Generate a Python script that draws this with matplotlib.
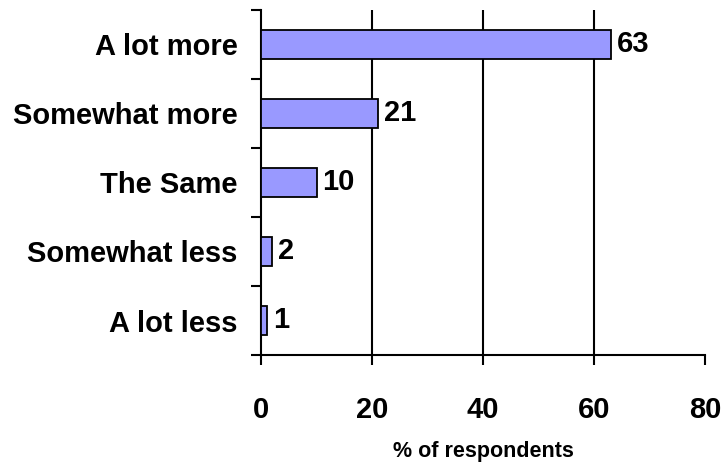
import matplotlib
matplotlib.use('Agg')
import matplotlib.pyplot as plt

categories = ['A lot less', 'Somewhat less', 'The Same', 'Somewhat more', 'A lot more']
values = [1, 2, 10, 21, 63]
xticks = [0, 20, 40, 60, 80]
xlabel = '% of respondents'

plt.rcParams['font.family'] = ['Liberation Sans', 'DejaVu Sans']
plt.rcParams['font.weight'] = 'bold'

fig = plt.figure(figsize=(7.28, 4.63), dpi=100)
ax = fig.add_axes([261 / 728, 1 - 355 / 463, (705 - 261) / 728, (355 - 10) / 463])

pos = list(range(len(categories)))
ax.barh(pos, values, height=0.43, color='#9999FF', edgecolor='black', linewidth=1.3, zorder=3)
for p, v in zip(pos, values):
    ax.text(v + 1.1, p, str(v), va='center', ha='left', fontsize=21, fontweight='bold')

for g in xticks[1:-1]:
    ax.axvline(g, color='black', lw=1.5, zorder=1)

ax.set_xlim(xticks[0], xticks[-1])
ax.set_ylim(-0.5, len(categories) - 0.5)
ax.set_xticks(xticks)
ax.set_xticklabels([str(t) for t in xticks], fontsize=21, fontweight='bold')
ax.set_yticks([p - 0.5 for p in pos] + [pos[-1] + 0.5])
ax.set_yticklabels([])
ax.set_yticks(pos, minor=True)
ax.set_yticklabels(categories, minor=True, fontsize=21, fontweight='bold')
ax.tick_params(axis='y', which='major', length=7.5, width=1.5, direction='out')
ax.tick_params(axis='y', which='minor', length=0, pad=17)
ax.tick_params(axis='x', length=7.5, width=1.5, direction='out', pad=22)
ax.set_xlabel(xlabel, fontsize=15.5, fontweight='bold', labelpad=12)

for s in ['top', 'right']:
    ax.spines[s].set_visible(False)
for s in ['left', 'bottom']:
    ax.spines[s].set_linewidth(1.5)

fig.savefig('out.png', dpi=100)
